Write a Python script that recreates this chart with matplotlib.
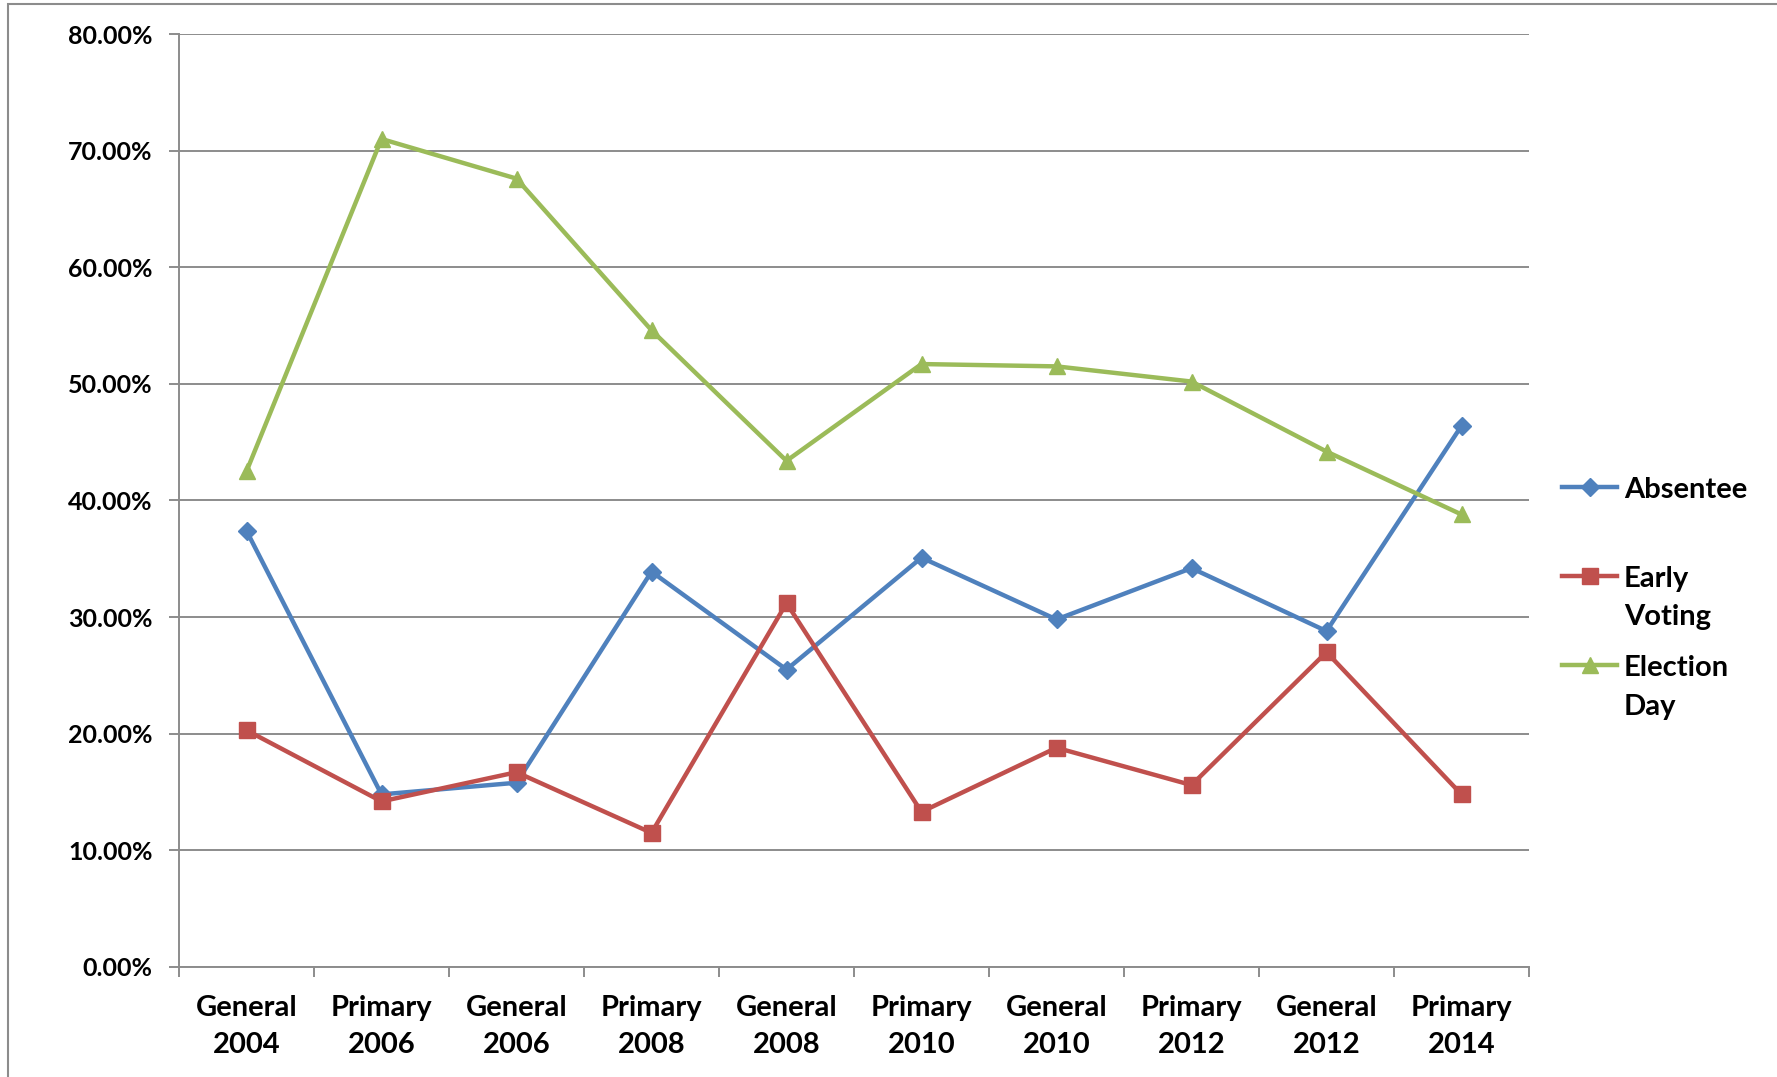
import numpy as np
import matplotlib.pyplot as plt
from matplotlib.lines import Line2D
from matplotlib.patches import Rectangle

# datos
categorias = ["General\n2004", "Primary\n2006", "General\n2006", "Primary\n2008", "General\n2008",
              "Primary\n2010", "General\n2010", "Primary\n2012", "General\n2012", "Primary\n2014"]
absentee = [37.4, 14.8, 15.8, 33.9, 25.5, 35.1, 29.8, 34.2, 28.8, 46.4]
early_voting = [20.3, 14.2, 16.7, 11.5, 31.2, 13.3, 18.8, 15.6, 27.0, 14.8]
election_day = [42.5, 71.0, 67.6, 54.6, 43.4, 51.7, 51.5, 50.2, 44.2, 38.8]
nombres = ["Absentee", "Early\nVoting", "Election\nDay"]

plt.rcParams['font.family'] = ['Lato', 'DejaVu Sans']
plt.rcParams['font.weight'] = 'bold'

W, H = 1777, 1077
fig = plt.figure(figsize=(W/100, H/100), dpi=100)
ax = fig.add_axes([179/W, 1-967/H, (1529-179)/W, (967-34)/H])

colores = ["#4F81BD", "#C0504D", "#9BBB59"]
marcadores = ["D", "s", "^"]
tamanos = [9, 11, 12]
series = [absentee, early_voting, election_day]

x = np.arange(len(categorias))
for s, c, m, ms in zip(series, colores, marcadores, tamanos):
    ax.plot(x, s, color=c, lw=3.2, marker=m, markersize=ms, zorder=3)

ax.set_xlim(-0.5, len(categorias)-0.5)
ax.set_ylim(0, 80)
ax.set_yticks(np.arange(0, 81, 10))
ax.set_yticklabels(["%.2f%%" % v for v in np.arange(0, 81, 10)])
ax.set_xticks(x)
ax.set_xticklabels(categorias, linespacing=1.55)
ax.set_xticks(np.arange(-0.5, len(categorias), 1), minor=True)
ax.tick_params(axis='x', which='major', length=0, pad=20, labelsize=21)
ax.tick_params(axis='x', which='minor', length=7, width=1.4, color='#8C8C8C', direction='out')
ax.tick_params(axis='y', length=7, width=1.4, color='#8C8C8C', pad=12, labelsize=18)
ax.grid(axis='y', color='#8C8C8C', lw=1.4)
for lado in ['top', 'right']:
    ax.spines[lado].set_visible(False)
for lado in ['left', 'bottom']:
    ax.spines[lado].set_color('#8C8C8C')
    ax.spines[lado].set_linewidth(1.4)

# leyenda manual, marcador alineado con la primera linea
leyenda_y = [487, 576, 665]
for nombre, c, m, ms, yy in zip(nombres, colores, marcadores, tamanos, leyenda_y):
    fy = 1 - yy/H
    fig.add_artist(Line2D([1562/W, 1590/W, 1617/W], [fy, fy, fy], color=c, lw=3.2,
                          marker=m, markersize=ms, markevery=[1], transform=fig.transFigure))
    for i, linea in enumerate(nombre.split("\n")):
        fig.text(1624/W, 1 - (yy + i*39)/H, linea, fontsize=21, fontweight='bold',
                 va='center_baseline', ha='left', transform=fig.transFigure)

# marco exterior
fig.add_artist(Rectangle((8/W, -0.1), 1.2, 1.1-4/H, fill=False, ec='#8C8C8C', lw=1.5,
                         transform=fig.transFigure))

fig.savefig("out.png", dpi=100)
